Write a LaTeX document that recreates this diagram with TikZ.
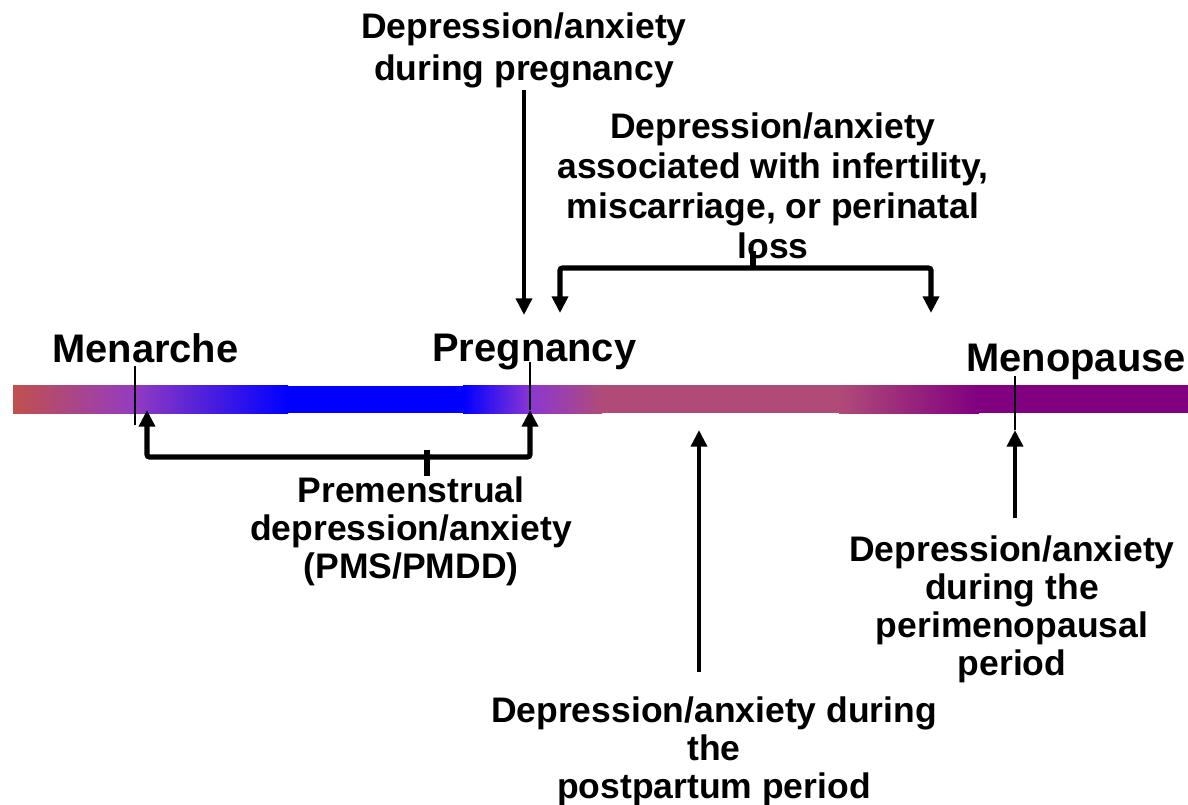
\documentclass[tikz,border=0pt]{standalone}
\usepackage{fontspec}
\setmainfont{Liberation Sans}
\usetikzlibrary{arrows.meta}
\setlength{\lineskiplimit}{-10pt}

\definecolor{barred}{RGB}{192,80,77}
\definecolor{barviolet}{RGB}{150,60,190}
\definecolor{barblue}{RGB}{0,0,255}
\definecolor{barmauve}{RGB}{140,55,210}
\definecolor{barpink}{RGB}{176,75,120}
\definecolor{barplum}{RGB}{128,0,128}

\tikzset{
  lbl/.style={font=\fontsize{20.2}{21.8}\selectfont\bfseries, align=center, inner sep=0pt},
  toplbl/.style={lbl, font=\fontsize{20.2}{22.8}\selectfont\bfseries},
  stagelbl/.style={font=\fontsize{22.7}{26}\selectfont\bfseries, inner sep=0pt},
  arr/.style={line width=2.5pt, -{Triangle[width=9pt,length=9.5pt]}},
  brace/.style={line width=3pt, rounded corners=1.5pt,
    {Triangle[width=9pt,length=9.5pt]}-{Triangle[width=9pt,length=9.5pt]}},
  stub/.style={line width=3pt},
  tickline/.style={line width=1.1pt}
}

\begin{document}
\begin{tikzpicture}[x=0.02cm,y=-0.02cm]
\useasboundingbox (0,0) rectangle (1188,805);

% time bar
\shade[left color=barred, right color=barviolet] (13,385) rectangle (131,413);
\shade[left color=barviolet, right color=barblue] (130,385) rectangle (288,413);
\fill[barblue] (287,386) rectangle (464,413);
\shade[left color=barblue, right color=barmauve] (463,385) rectangle (531,413);
\shade[left color=barmauve, right color=barpink] (530,385) rectangle (602,413);
\fill[barpink] (601,385) rectangle (840,413);
\shade[left color=barpink, right color=barplum] (839,385) rectangle (979,413);
\fill[barplum] (978,385) rectangle (1188,413);

\coordinate (menTop) at (135,366);
\coordinate (menBot) at (135,425);
\coordinate (pregTop) at (530,362);
\coordinate (pregBot) at (530,410);
\coordinate (pauseTop) at (1015,376);
\coordinate (pauseBot) at (1015,430);

\coordinate (pregStart) at (524,90);
\coordinate (pregTip) at (524,315);
\coordinate (infL) at (560,313);
\coordinate (infR) at (931,313);
\coordinate (infM) at (753,268);
\coordinate (pmsL) at (147,410);
\coordinate (pmsR) at (530,410);
\coordinate (pmsM) at (427,457);
\coordinate (postTip) at (699,430);
\coordinate (postStart) at (699,672);
\coordinate (periTip) at (1015,430);
\coordinate (periStart) at (1015,518);

\node[stagelbl, anchor=base west] (menarche) at (52,362) {Menarche};
\node[stagelbl, anchor=base west] (pregnancy) at (432,361) {Pregnancy};
\node[stagelbl, anchor=base west] (menopause) at (966,371) {Menopause};

\node[toplbl, anchor=north, font=\fontsize{20.2}{24.2}\selectfont\bfseries] (duringpreg) at (524,12) {Depression/anxiety\\during pregnancy};
\node[toplbl, anchor=north] (infert) at (773,112) {Depression/anxiety\\associated with infertility,\\miscarriage, or perinatal\\loss};
\node[lbl, anchor=north] (pms) at (411,476) {Premenstrual\\depression/anxiety\\(PMS/PMDD)};
\node[lbl, anchor=north] (peri) at (1012,535) {Depression/anxiety\\during the\\perimenopausal\\period};
\node[lbl, anchor=north] (post) at (714,696) {Depression/anxiety during\\the\\postpartum period};

\draw[tickline] (menTop) -- (menBot);
\draw[tickline] (pregTop) -- (pregBot);
\draw[tickline] (pauseTop) -- (pauseBot);

\draw[arr] (pregStart) -- (pregTip);
\draw[brace] (infL) -- (infL |- infM) -- (infR |- infM) -- (infR);
\draw[stub] (infM) -- ++(0,-17);
\draw[brace] (pmsL) -- (pmsL |- pmsM) -- (pmsR |- pmsM) -- (pmsR);
\draw[stub] ([yshift=4pt]pmsM) -- (pmsM |- pms.north);
\draw[arr] (postStart) -- (postTip);
\draw[arr] (periStart) -- (periTip);
\end{tikzpicture}
\end{document}
